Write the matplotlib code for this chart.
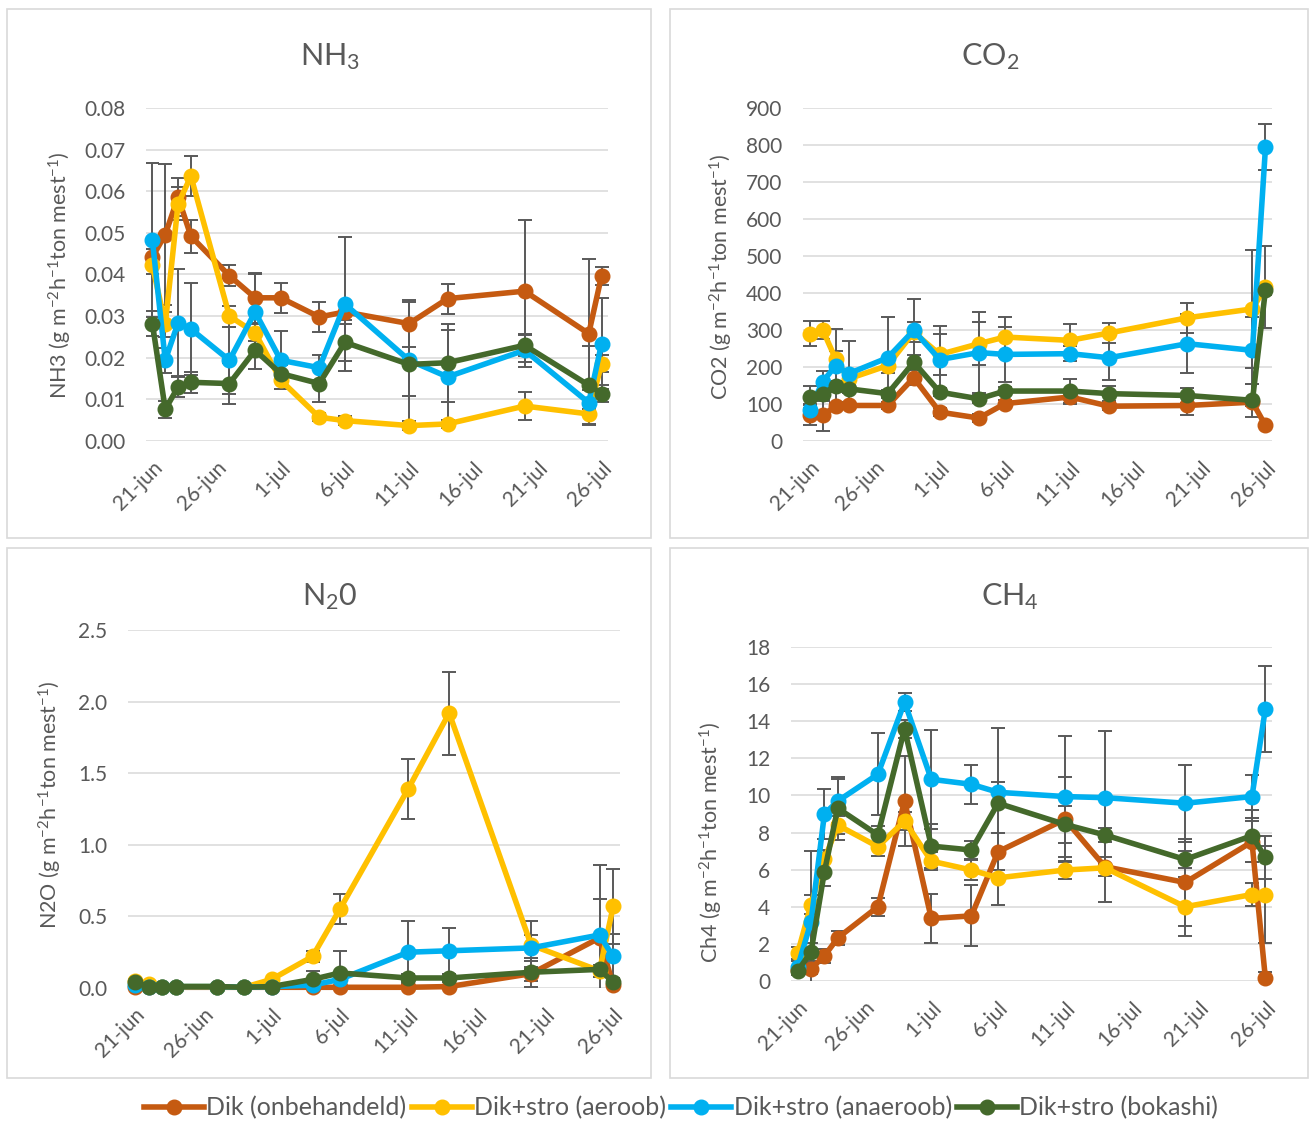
import numpy as np
import matplotlib
matplotlib.use("Agg")
import matplotlib.pyplot as plt
from matplotlib.patches import Rectangle

plt.rcParams['font.family'] = ['Lato', 'DejaVu Sans']
plt.rcParams['mathtext.fontset'] = 'custom'
plt.rcParams['mathtext.rm'] = 'Lato'
plt.rcParams['mathtext.it'] = 'Lato:italic'
plt.rcParams['mathtext.bf'] = 'Lato:bold'

# meetdata
dates = np.array(['2020-06-21', '2020-06-22', '2020-06-23', '2020-06-24', '2020-06-27',
                  '2020-06-29', '2020-07-01', '2020-07-04', '2020-07-06', '2020-07-11',
                  '2020-07-14', '2020-07-20', '2020-07-25', '2020-07-26'], dtype='datetime64[D]')
series = ['Dik (onbehandeld)', 'Dik+stro (aeroob)', 'Dik+stro (anaeroob)', 'Dik+stro (bokashi)']
colors = ['#C55A11', '#FFC000', '#00B0F0', '#44692B']

nh3_dik = [0.0442, 0.0496, 0.0586, 0.0492, 0.0397, 0.0344, 0.0344, 0.0298, 0.031, 0.0282, 0.0342, 0.036, 0.0258, 0.0397]
nh3_aeroob = [0.0422, 0.028, 0.057, 0.0636, 0.030, 0.026, 0.0146, 0.0057, 0.0049, 0.0037, 0.0041, 0.0084, 0.0065, 0.0186]
nh3_anaeroob = [0.0482, 0.0194, 0.0284, 0.0269, 0.0194, 0.031, 0.0194, 0.0176, 0.0329, 0.0194, 0.0154, 0.0218, 0.0092, 0.0234]
nh3_bokashi = [0.0282, 0.0076, 0.013, 0.0141, 0.0138, 0.0218, 0.0162, 0.0138, 0.0237, 0.0184, 0.0188, 0.023, 0.0134, 0.0114]
nh3_err_dik = [0.002, 0.017, 0.0045, 0.004, 0.0025, 0.006, 0.0036, 0.0036, 0.002, 0.0056, 0.0036, 0.017, 0.018, 0.0022]
nh3_err_aeroob = [0.002, 0.003, 0.004, 0.0048, 0.0025, 0.002, 0.002, 0.001, 0.001, 0.001, 0.001, 0.0034, 0.0023, 0.002]
nh3_err_anaeroob = [0.0185, 0.003, 0.013, 0.011, 0.008, 0.009, 0.007, 0.003, 0.016, 0.0085, 0.0112, 0.004, 0.003, 0.011]
nh3_err_bokashi = [0.003, 0.002, 0.0025, 0.0025, 0.005, 0.0045, 0.002, 0.0045, 0.0045, 0.015, 0.0094, 0.0025, 0.0095, 0.002]

co2_dik = [69, 69, 94, 96, 96, 171, 78, 62, 101, 119, 94, 96, 105, 42]
co2_aeroob = [290, 301, 222, 168, 204, 294, 234, 263, 281, 272, 292, 333, 357, 416]
co2_anaeroob = [85, 159, 204, 182, 225, 299, 220, 239, 234, 236, 225, 263, 245, 794]
co2_bokashi = [119, 128, 148, 141, 128, 213, 132, 114, 135, 135, 128, 123, 110, 409]
co2_err_dik = [27, 42, 10, 10, 10, 20, 10, 10, 10, 20, 10, 25, 10, 5]
co2_err_aeroob = [33, 24, 20, 15, 20, 27, 56, 58, 54, 43, 27, 40, 160, 110]
co2_err_anaeroob = [15, 30, 100, 88, 110, 84, 92, 109, 75, 20, 59, 80, 90, 62]
co2_err_bokashi = [29, 20, 15, 10, 10, 20, 10, 10, 10, 33, 20, 20, 45, 15]

n2o_dik = [0.01, 0.005, 0.005, 0.005, 0.005, 0.005, 0.005, 0.005, 0.005, 0.005, 0.01, 0.1, 0.35, 0.02]
n2o_aeroob = [0.05, 0.03, 0.01, 0.01, 0.01, 0.005, 0.06, 0.22, 0.55, 1.39, 1.92, 0.30, 0.12, 0.57]
n2o_anaeroob = [0.02, 0.01, 0.01, 0.01, 0.01, 0.005, 0.01, 0.02, 0.06, 0.25, 0.26, 0.28, 0.37, 0.22]
n2o_bokashi = [0.04, 0.01, 0.01, 0.01, 0.01, 0.005, 0.01, 0.06, 0.105, 0.07, 0.07, 0.11, 0.13, 0.04]
n2o_err_dik = [0, 0, 0, 0, 0, 0, 0, 0, 0, 0, 0.005, 0.05, 0.27, 0.01]
n2o_err_aeroob = [0.01, 0, 0, 0, 0, 0, 0.01, 0.04, 0.105, 0.21, 0.29, 0.17, 0.04, 0.26]
n2o_err_anaeroob = [0, 0, 0, 0, 0, 0, 0, 0.01, 0.02, 0.22, 0.16, 0.09, 0.49, 0.16]
n2o_err_bokashi = [0, 0, 0, 0, 0, 0, 0, 0.057, 0.15, 0.03, 0.03, 0.1, 0.02, 0.03]

ch4_dik = [0.6, 0.67, 1.35, 2.32, 4.0, 9.7, 3.37, 3.51, 6.97, 8.71, 6.16, 5.31, 7.5, 0.18]
ch4_aeroob = [1.51, 4.12, 6.55, 8.4, 7.24, 8.62, 6.46, 5.98, 5.56, 5.98, 6.1, 4.0, 4.66, 4.66]
ch4_anaeroob = [0.76, 3.19, 9.0, 9.7, 11.14, 15.03, 10.87, 10.6, 10.17, 9.94, 9.88, 9.58, 9.94, 14.65]
ch4_bokashi = [0.54, 1.57, 5.89, 9.31, 7.87, 13.59, 7.27, 7.06, 9.58, 8.44, 7.87, 6.55, 7.83, 6.66]
ch4_err_dik = [0.2, 0.3, 0.4, 0.4, 0.5, 2.4, 1.32, 1.64, 1.0, 2.27, 0.5, 2.35, 1.1, 0.3]
ch4_err_aeroob = [0.3, 0.5, 0.5, 0.5, 0.5, 0.5, 0.5, 0.54, 1.47, 0.5, 1.83, 1.6, 0.6, 2.6]
ch4_err_anaeroob = [0.3, 3.8, 1.35, 1.17, 2.2, 0.5, 2.67, 1.05, 0.58, 3.24, 3.57, 2.07, 1.16, 2.3]
ch4_err_bokashi = [0.2, 0.5, 0.78, 1.7, 0.5, 0.5, 1.2, 0.5, 4.05, 1.0, 0.4, 0.45, 1.39, 1.15]

W, H = 1314, 1122
GRAY = '#595959'
fig = plt.figure(figsize=(W / 100, H / 100), dpi=100)

# panel frames (pixels: left, top, right, bottom)
for x0, y0, x1, y1 in [(7, 9, 651, 538), (670, 9, 1308, 538), (7, 548, 651, 1078), (670, 548, 1308, 1078)]:
    fig.add_artist(Rectangle((x0 / W, 1 - y1 / H), (x1 - x0) / W, (y1 - y0) / H,
                             transform=fig.transFigure, fill=False, ec='#D9D9D9', lw=1.2))

unit = ' (g m$^{-2}$h$^{-1}$ton mest$^{-1}$)'
panels = [
    # plot box px (l, t, r, b), title, title pos, ylabel, ylabel pos, ymax, step, fmt, values, errors
    ((146, 108, 608, 441), 'NH$_3$', (330, 57), 'NH3' + unit, (60, 275),
     0.08, 0.01, '{:.2f}', [nh3_dik, nh3_aeroob, nh3_anaeroob, nh3_bokashi],
     [nh3_err_dik, nh3_err_aeroob, nh3_err_anaeroob, nh3_err_bokashi]),
    ((803, 108, 1272, 441), 'CO$_2$', (990, 57), 'CO2' + unit, (721, 277),
     900, 100, '{:.0f}', [co2_dik, co2_aeroob, co2_anaeroob, co2_bokashi],
     [co2_err_dik, co2_err_aeroob, co2_err_anaeroob, co2_err_bokashi]),
    ((128, 630, 620, 988), 'N$_2$0', (330, 597), 'N2O' + unit, (50, 805),
     2.5, 0.5, '{:.1f}', [n2o_dik, n2o_aeroob, n2o_anaeroob, n2o_bokashi],
     [n2o_err_dik, n2o_err_aeroob, n2o_err_anaeroob, n2o_err_bokashi]),
    ((791, 647, 1272, 981), 'CH$_4$', (1010, 597), 'Ch4' + unit, (711, 842),
     18, 2, '{:.0f}', [ch4_dik, ch4_aeroob, ch4_anaeroob, ch4_bokashi],
     [ch4_err_dik, ch4_err_aeroob, ch4_err_anaeroob, ch4_err_bokashi]),
]

ticks = np.arange(np.datetime64('2020-06-21'), np.datetime64('2020-07-27'), 5)
months = {6: 'jun', 7: 'jul'}
ticklabels = [f"{d.astype(object).day}-{months[d.astype(object).month]}" for d in ticks]

handles = []
for (l, t, r, b), title, tpos, ylab, ypos, ymax, step, fmt, vals, errs in panels:
    ax = fig.add_axes([l / W, 1 - b / H, (r - l) / W, (b - t) / H])
    for v, e in zip(vals, errs):
        ax.errorbar(dates, v, yerr=e, fmt='none', ecolor=GRAY, elinewidth=1.4,
                    capsize=5, capthick=1.4, zorder=2)
    hs = []
    for i, (v, c) in enumerate(zip(vals, colors)):
        h, = ax.plot(dates, v, color=c, lw=4, marker='o', ms=10.5, zorder=3 + i, clip_on=False)
        hs.append(h)
    handles = hs
    ax.set_xlim(np.datetime64('2020-06-21') - np.timedelta64(12, 'h'),
                np.datetime64('2020-07-26') + np.timedelta64(12, 'h'))
    ax.set_ylim(0, ymax)
    yt = np.arange(0, ymax + step / 2, step)
    ax.set_yticks(yt)
    ax.set_yticklabels([fmt.format(y) for y in yt])
    ax.set_xticks(ticks)
    ax.set_xticklabels(ticklabels, rotation=45, ha='right', va='top', rotation_mode='anchor')
    ax.grid(axis='y', color='#D9D9D9', lw=1.1)
    ax.set_axisbelow(True)
    for s in ax.spines.values():
        s.set_visible(False)
    ax.tick_params(axis='y', length=0, pad=15, labelsize=15, labelcolor=GRAY)
    ax.tick_params(axis='x', length=0, pad=12, labelsize=15, labelcolor=GRAY)
    fig.text(tpos[0] / W, 1 - tpos[1] / H, title, ha='center', va='center', fontsize=22, color=GRAY)
    fig.text(ypos[0] / W, 1 - ypos[1] / H, ylab, ha='center', va='center', rotation=90,
             fontsize=15.5, color=GRAY)

fig.legend(handles, series, loc='center', bbox_to_anchor=(681 / W, 1 - 1108 / H), ncol=4,
           frameon=False, fontsize=18, handlelength=2.4, handletextpad=0.1, columnspacing=0.2,
           labelcolor=GRAY)

fig.savefig('out.png', dpi=100)
